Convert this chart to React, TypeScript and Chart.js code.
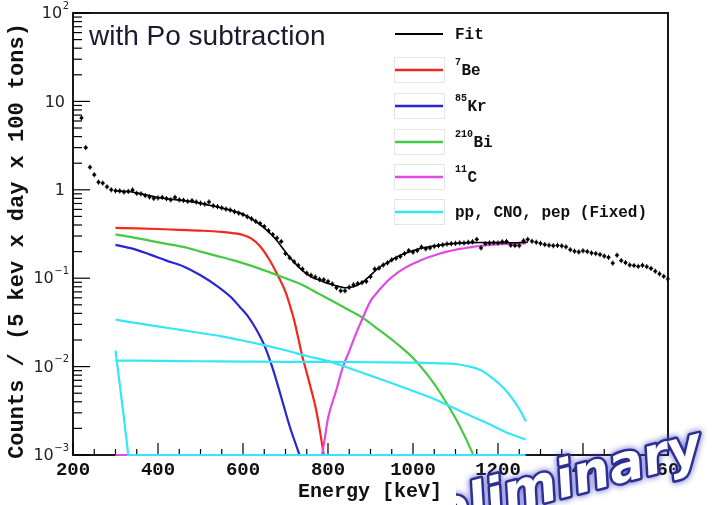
import React, { useEffect, useRef } from "react";
import { Chart, registerables } from "chart.js";

Chart.register(...registerables);

// ---- axis ranges & tick labels ----
const X_MIN = 200;
const X_MAX = 1600;
const Y_MIN = 0.001;
const Y_MAX = 100;
const xTickValues = [200, 400, 600, 800, 1000, 1200, 1400, 1600];
const yDecadeValues = [0.001, 0.01, 0.1, 1, 10, 100];
const yTickBase = ["10", "10", "10", "1", "10", "10"];
const yTickExp = ["\u22123", "\u22122", "\u22121", "", "", "2"];

const plotTitle = "with Po subtraction";
const xTitle = "Energy [keV]";
const yTitle = "Counts / (5 kev x day x 100 tons)";
const watermark = "Preliminary";

// ---- legend ----
const legendSup = ["", "7", "85", "210", "11", ""];
const legendMain = ["Fit", "Be", "Kr", "Bi", "C", "pp, CNO, pep (Fixed)"];
const legendColors = ["#000000", "#f2281c", "#2626d6", "#44c944", "#e04ae4", "#35e6f4"];

// ---- data points [keV, counts] ----
const dataPoints: [number, number][] = [
  [220, 6.5], [230, 3.0], [240, 1.8], [250, 1.48], [260, 1.22], [270, 1.19], [280, 1.08], [290, 1.0],
  [300, 0.975], [310, 0.97], [320, 0.944], [330, 0.96], [340, 0.995], [350, 0.912], [360, 0.9], [370, 0.86],
  [380, 0.83], [390, 0.8], [400, 0.81], [410, 0.822], [420, 0.793], [430, 0.77], [440, 0.822], [450, 0.77],
  [460, 0.76], [470, 0.741], [480, 0.754], [490, 0.728], [500, 0.705], [510, 0.69], [520, 0.728], [530, 0.66],
  [540, 0.645], [550, 0.625], [560, 0.605], [570, 0.59], [580, 0.565], [590, 0.545], [600, 0.525], [610, 0.495],
  [620, 0.47], [630, 0.44], [640, 0.417], [650, 0.385], [660, 0.345], [670, 0.312], [680, 0.285], [690, 0.26],
  [700, 0.19], [710, 0.17], [720, 0.154], [730, 0.14], [740, 0.127], [750, 0.114], [760, 0.108], [770, 0.103],
  [780, 0.097], [790, 0.096], [800, 0.092], [810, 0.086], [820, 0.078], [830, 0.072], [840, 0.072], [850, 0.079],
  [860, 0.084], [870, 0.087], [880, 0.089], [890, 0.092], [900, 0.104], [910, 0.127], [920, 0.13], [930, 0.141],
  [940, 0.149], [950, 0.161], [960, 0.168], [970, 0.176], [980, 0.19], [990, 0.205], [1000, 0.197], [1010, 0.206],
  [1020, 0.225], [1030, 0.215], [1040, 0.22], [1050, 0.23], [1060, 0.234], [1070, 0.238], [1080, 0.244], [1090, 0.246],
  [1100, 0.248], [1110, 0.251], [1120, 0.25], [1130, 0.255], [1140, 0.258], [1150, 0.275], [1160, 0.22], [1170, 0.246],
  [1180, 0.25], [1190, 0.252], [1200, 0.25], [1210, 0.258], [1220, 0.26], [1230, 0.236], [1240, 0.234], [1250, 0.233],
  [1260, 0.265], [1270, 0.275], [1280, 0.262], [1290, 0.255], [1300, 0.248], [1310, 0.24], [1320, 0.236], [1330, 0.233],
  [1340, 0.235], [1350, 0.232], [1360, 0.226], [1370, 0.21], [1380, 0.202], [1390, 0.198], [1400, 0.204], [1410, 0.2],
  [1420, 0.193], [1430, 0.19], [1440, 0.185], [1450, 0.178], [1460, 0.172], [1470, 0.148], [1480, 0.182], [1490, 0.158],
  [1500, 0.15], [1510, 0.141], [1520, 0.139], [1530, 0.136], [1540, 0.14], [1550, 0.135], [1560, 0.129], [1570, 0.12],
  [1580, 0.112], [1590, 0.105], [1600, 0.098],
];

// ---- fit and components [keV, counts] ----
const fitCurve: [number, number][] = [
  [300, 0.975], [320, 0.96], [340, 0.945], [360, 0.9], [380, 0.86], [400, 0.82], [420, 0.795], [440, 0.775],
  [460, 0.755], [480, 0.73], [500, 0.705], [520, 0.67], [540, 0.64], [560, 0.605], [580, 0.57], [600, 0.53],
  [620, 0.47], [640, 0.405], [660, 0.335], [680, 0.265], [700, 0.198], [720, 0.152], [740, 0.122], [760, 0.104],
  [780, 0.095], [800, 0.087], [820, 0.082], [840, 0.078], [860, 0.08], [880, 0.089], [900, 0.108], [920, 0.132],
  [940, 0.15], [960, 0.172], [980, 0.19], [1000, 0.205], [1020, 0.218], [1040, 0.228], [1060, 0.236], [1080, 0.242],
  [1100, 0.247], [1120, 0.25], [1140, 0.252], [1160, 0.253], [1180, 0.253], [1200, 0.253], [1220, 0.252], [1240, 0.252],
  [1260, 0.254], [1270, 0.255],
];

const be7: [number, number][] = [
  [300, 0.37], [350, 0.366], [400, 0.36], [450, 0.352], [500, 0.345], [550, 0.334], [580, 0.322], [600, 0.308],
  [620, 0.28], [640, 0.23], [660, 0.168], [680, 0.112], [700, 0.07], [710, 0.05], [720, 0.034], [730, 0.021],
  [740, 0.0128], [750, 0.0085], [760, 0.0056], [770, 0.0036], [780, 0.002], [790, 0.001],
];

const kr85: [number, number][] = [
  [300, 0.238], [340, 0.216], [380, 0.186], [420, 0.158], [460, 0.136], [500, 0.108], [540, 0.081], [570, 0.062],
  [593, 0.047], [610, 0.038], [630, 0.027], [650, 0.0175], [670, 0.0095], [690, 0.0045], [710, 0.0021], [733, 0.001],
];

const bi210: [number, number][] = [
  [300, 0.313], [340, 0.29], [380, 0.266], [420, 0.245], [460, 0.226], [500, 0.2], [540, 0.178], [580, 0.158],
  [620, 0.138], [660, 0.118], [700, 0.1], [740, 0.084], [780, 0.066], [805, 0.057], [840, 0.046], [880, 0.036],
  [920, 0.026], [960, 0.0185], [1000, 0.0125], [1040, 0.0074], [1060, 0.0054], [1080, 0.0038], [1100, 0.0026],
  [1120, 0.0017], [1142, 0.001],
];

const c11: [number, number][] = [
  [300, 0.001], [785, 0.001], [790, 0.0013], [800, 0.0026], [820, 0.0055], [835, 0.0099], [850, 0.015], [865, 0.023],
  [880, 0.034], [900, 0.055], [920, 0.073], [940, 0.093], [960, 0.112], [980, 0.13], [1000, 0.146], [1020, 0.161],
  [1040, 0.175], [1060, 0.188], [1080, 0.2], [1100, 0.21], [1120, 0.218], [1140, 0.226], [1160, 0.233], [1180, 0.238],
  [1200, 0.242], [1220, 0.244], [1240, 0.246], [1265, 0.248],
];

const cnoCurve: [number, number][] = [
  [300, 0.034], [350, 0.031], [400, 0.0285], [460, 0.0257], [500, 0.024], [550, 0.022], [593, 0.02], [647, 0.0176],
  [700, 0.0153], [750, 0.0132], [805, 0.0114], [850, 0.0096], [900, 0.0079], [946, 0.0066], [1000, 0.0053],
  [1040, 0.0045], [1080, 0.0037], [1120, 0.003], [1174, 0.0023], [1220, 0.0018], [1265, 0.0015],
];

const pepCurve: [number, number][] = [
  [300, 0.0117], [400, 0.0116], [500, 0.0115], [600, 0.0114], [700, 0.0113], [800, 0.0113], [900, 0.0112],
  [1000, 0.0111], [1060, 0.0109], [1100, 0.0107], [1130, 0.0101], [1160, 0.0091], [1190, 0.0072], [1215, 0.0056],
  [1236, 0.0042], [1252, 0.0032], [1266, 0.0024],
];

const ppCurve: [number, number][] = [
  [300, 0.0152], [310, 0.0063], [320, 0.0026], [330, 0.001], [1265, 0.001],
];

const MONO = "'Liberation Mono', 'DejaVu Sans Mono', monospace";

function lineSet(label: string, pts: [number, number][], color: string, width: number, extra: any = {}) {
  return {
    label,
    data: pts.map(([x, y]) => ({ x, y })),
    borderColor: color,
    backgroundColor: color,
    borderWidth: width,
    pointRadius: 0,
    fill: false,
    cubicInterpolationMode: "monotone",
    clip: { left: 0, top: 0, right: 0, bottom: 3 },
    ...extra,
  };
}

const decorPlugin = {
  id: "decor",
  beforeDraw(chart: any) {
    const { ctx, width, height } = chart;
    ctx.save();
    ctx.fillStyle = "#ffffff";
    ctx.fillRect(0, 0, width, height);
    ctx.restore();
  },
  beforeDatasetsDraw(chart: any) {
    const { ctx, chartArea: a, scales } = chart;
    const xs = scales.x;
    const ys = scales.y;
    ctx.save();
    ctx.strokeStyle = "#000";
    ctx.lineWidth = 1.2;
    for (let e = X_MIN; e <= X_MAX; e += 50) {
      const px = xs.getPixelForValue(e);
      const len = e % 200 === 0 ? 12 : 6;
      ctx.beginPath();
      ctx.moveTo(px, a.bottom);
      ctx.lineTo(px, a.bottom - len);
      ctx.stroke();
    }
    yDecadeValues.forEach((d) => {
      const py = ys.getPixelForValue(d);
      ctx.beginPath();
      ctx.moveTo(a.left, py);
      ctx.lineTo(a.left + 17, py);
      ctx.stroke();
      if (d < Y_MAX) {
        for (let m = 2; m <= 9; m++) {
          const my = ys.getPixelForValue(d * m);
          ctx.beginPath();
          ctx.moveTo(a.left, my);
          ctx.lineTo(a.left + 9, my);
          ctx.stroke();
        }
      }
    });
    ctx.lineWidth = 1.8;
    ctx.strokeRect(a.left, a.top, a.right - a.left, a.bottom - a.top);
    ctx.restore();
  },
  afterDatasetsDraw(chart: any) {
    const { ctx, chartArea: a, scales } = chart;
    const xs = scales.x;
    const ys = scales.y;
    ctx.save();
    ctx.strokeStyle = "#000";
    ctx.lineWidth = 1;
    dataPoints.forEach(([e, v]) => {
      const px = xs.getPixelForValue(e);
      const py = ys.getPixelForValue(v);
      const yTop = ys.getPixelForValue(v * 1.07);
      const yBot = ys.getPixelForValue(v / 1.07);
      const xl = xs.getPixelForValue(e - 5);
      const xr = xs.getPixelForValue(e + 5);
      ctx.beginPath();
      ctx.moveTo(px, yTop);
      ctx.lineTo(px, yBot);
      ctx.moveTo(xl, py);
      ctx.lineTo(xr, py);
      ctx.stroke();
    });

    ctx.fillStyle = "#111";
    ctx.font = `bold 19px ${MONO}`;
    ctx.textAlign = "center";
    ctx.textBaseline = "middle";
    xTickValues.forEach((v) => {
      ctx.fillText(String(v), xs.getPixelForValue(v), a.bottom + 15);
    });
    ctx.font = `bold 20px ${MONO}`;
    ctx.fillText(xTitle, 370, a.bottom + 37);

    ctx.fillStyle = "#222";
    yDecadeValues.forEach((d, i) => {
      const py = ys.getPixelForValue(d);
      const base = yTickBase[i];
      const exp = yTickExp[i];
      ctx.textBaseline = "middle";
      ctx.textAlign = "right";
      if (exp) {
        ctx.font = "10px 'DejaVu Sans', sans-serif";
        const ew = ctx.measureText(exp).width;
        ctx.fillText(exp, 69, py - 7);
        ctx.font = "16px 'DejaVu Sans', sans-serif";
        ctx.fillText(base, 69 - ew - 0.5, py + 1);
      } else {
        ctx.font = "16px 'DejaVu Sans', sans-serif";
        ctx.fillText(base, 65, py + 1);
      }
    });

    ctx.save();
    ctx.translate(17, 241);
    ctx.rotate(-Math.PI / 2);
    ctx.font = `bold 22px ${MONO}`;
    ctx.fillStyle = "#111";
    ctx.textAlign = "center";
    ctx.textBaseline = "middle";
    ctx.fillText(yTitle, 0, 0);
    ctx.restore();

    ctx.font = "28px 'Liberation Sans', Arial, sans-serif";
    ctx.fillStyle = "#1a1a30";
    ctx.textAlign = "left";
    ctx.textBaseline = "alphabetic";
    ctx.fillText(plotTitle, 89, 45);

    const rowY = [34, 70, 106, 142, 177, 212];
    legendMain.forEach((txt, i) => {
      const y = rowY[i];
      if (i > 0) {
        ctx.strokeStyle = "#e6e6e6";
        ctx.lineWidth = 1;
        ctx.strokeRect(394.5, y - 12.5, 50, 25);
      }
      ctx.strokeStyle = legendColors[i];
      ctx.lineWidth = i === 0 ? 2 : 2.5;
      ctx.beginPath();
      ctx.moveTo(395, y);
      ctx.lineTo(443, y);
      ctx.stroke();
      let tx = 455;
      ctx.fillStyle = "#111";
      ctx.textAlign = "left";
      ctx.textBaseline = "middle";
      if (legendSup[i]) {
        ctx.font = `bold 10px ${MONO}`;
        ctx.fillText(legendSup[i], tx, y - 8);
        tx += ctx.measureText(legendSup[i]).width + 0.5;
      }
      ctx.font = `bold 16px ${MONO}`;
      ctx.fillText(txt, tx, y + 1);
    });
    ctx.restore();
  },
  afterDraw(chart: any) {
    const { ctx } = chart;
    ctx.save();
    // the watermark only shows to the right of the axis title, as in the source picture
    ctx.beginPath();
    ctx.rect(456, 380, 256, 125);
    ctx.clip();
    ctx.font = "italic bold 52px 'DejaVu Sans', sans-serif";
    const preW = ctx.measureText("Pre").width;
    const ang = (-14.5 * Math.PI) / 180;
    ctx.translate(473 - preW * Math.cos(ang), 521 - preW * Math.sin(ang));
    ctx.rotate(ang);
    ctx.textAlign = "left";
    ctx.textBaseline = "alphabetic";
    ctx.shadowColor = "rgba(70,70,200,0.9)";
    ctx.shadowBlur = 6;
    ctx.lineJoin = "round";
    ctx.lineWidth = 5;
    ctx.strokeStyle = "#2c2f92";
    ctx.strokeText(watermark, 0, 0);
    ctx.shadowBlur = 0;
    ctx.fillStyle = "#ffffff";
    ctx.fillText(watermark, 0, 0);
    ctx.restore();
  },
};

export default function App() {
  const ref = useRef<HTMLCanvasElement | null>(null);

  useEffect(() => {
    if (!ref.current) return;
    const chart = new Chart(ref.current, {
      type: "line",
      data: {
        datasets: [
          {
            label: "Data",
            data: dataPoints.map(([x, y]) => ({ x, y })),
            showLine: false,
            pointStyle: "rect",
            pointRadius: 2,
            pointBackgroundColor: "#000",
            pointBorderWidth: 0,
            borderColor: "#000",
            backgroundColor: "#000",
          } as any,
          lineSet("Fit", fitCurve, legendColors[0], 1.6),
          lineSet("pp", ppCurve, legendColors[5], 2.2, { cubicInterpolationMode: "default", tension: 0 }),
          lineSet("pep", pepCurve, legendColors[5], 2.2),
          lineSet("CNO", cnoCurve, legendColors[5], 2.2),
          lineSet("11C", c11, legendColors[4], 2.2),
          lineSet("210Bi", bi210, legendColors[3], 2.2),
          lineSet("85Kr", kr85, legendColors[2], 2.2),
          lineSet("7Be", be7, legendColors[1], 2.2),
        ] as any,
      },
      options: {
        responsive: false,
        animation: false,
        layout: { padding: { left: 73, right: 44, top: 13, bottom: 50 } },
        scales: {
          x: { type: "linear", min: X_MIN, max: X_MAX, display: false },
          y: { type: "logarithmic", min: Y_MIN, max: Y_MAX, display: false },
        },
        plugins: {
          legend: { display: false },
          tooltip: { enabled: false },
          title: { display: false },
        },
      } as any,
      plugins: [decorPlugin],
    });
    return () => chart.destroy();
  }, []);

  return (
    <div style={{ position: "absolute", left: 0, top: 0, width: 712, height: 505, background: "#fff" }}>
      <canvas ref={ref} width={712} height={505} style={{ display: "block" }} />
    </div>
  );
}
